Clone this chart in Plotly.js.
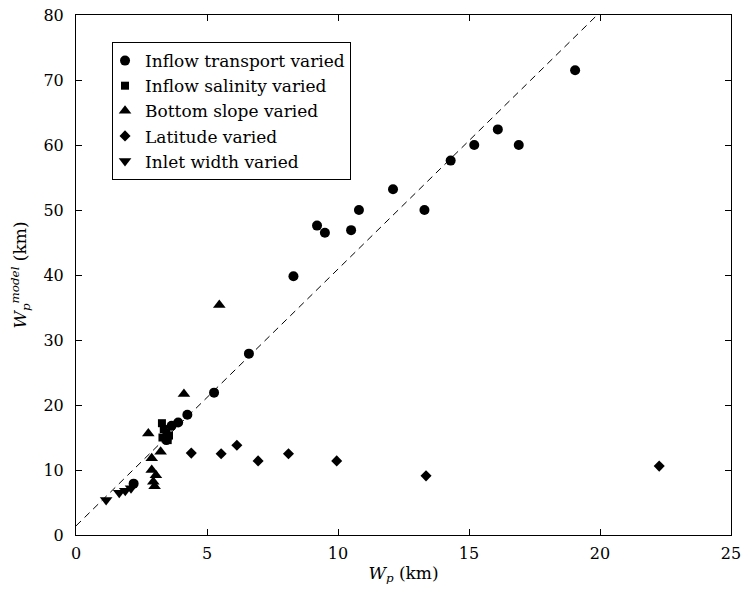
<!DOCTYPE html>
<html>
<head>
<meta charset="utf-8">
<script src="https://cdn.plot.ly/plotly-3.0.1.min.js"></script>
<style>html,body{margin:0;padding:0;background:#fff;}#chart{width:741px;height:594px;}</style>
</head>
<body>
<div id="chart"></div>
<script>
// Inflow transport varied (circles)
var transportX = [19.05, 16.1, 16.9, 15.2, 14.3, 12.1, 13.3, 10.8, 9.2, 9.5, 10.5, 8.3, 6.6, 5.27, 4.25, 3.9, 3.65, 3.45, 2.2];
var transportY = [71.5, 62.4, 60.0, 60.0, 57.6, 53.2, 50.0, 50.0, 47.6, 46.5, 46.9, 39.8, 27.9, 21.9, 18.5, 17.3, 16.8, 14.6, 7.9];
// Inflow salinity varied (squares)
var salinityX = [3.28, 3.35, 3.45, 3.3, 3.55, 3.5];
var salinityY = [17.2, 16.3, 15.8, 15.0, 15.3, 14.6];
// Bottom slope varied (triangles up)
var slopeX = [5.47, 4.12, 2.76, 3.23, 2.89, 2.89, 3.05, 2.95, 3.0];
var slopeY = [35.4, 21.7, 15.6, 12.8, 11.8, 10.0, 9.2, 8.2, 7.5];
// Latitude varied (diamonds)
var latitudeX = [4.4, 5.54, 6.14, 6.95, 8.11, 9.95, 13.36, 22.26];
var latitudeY = [12.6, 12.5, 13.8, 11.4, 12.5, 11.4, 9.1, 10.6];
// Inlet width varied (triangles down)
var inletX = [1.15, 1.65, 1.88, 2.1];
var inletY = [5.4, 6.5, 6.8, 7.2];
// Reference (dashed) line endpoints
var lineX = [0, 20.5];
var lineY = [1.4, 82.4];

var serif = 'DejaVu Serif';

var traces = [
  {x: lineX, y: lineY, mode: 'lines', type: 'scatter', showlegend: false, hoverinfo: 'skip',
   line: {color: '#000', width: 1, dash: '7px,5px'}},
  {x: transportX, y: transportY, mode: 'markers', type: 'scatter', name: 'Inflow transport varied',
   marker: {symbol: 'circle', size: 10, color: '#000'}},
  {x: salinityX, y: salinityY, mode: 'markers', type: 'scatter', name: 'Inflow salinity varied',
   marker: {symbol: 'square', size: 8, color: '#000'}},
  {x: slopeX, y: slopeY, mode: 'markers', type: 'scatter', name: 'Bottom slope varied',
   marker: {symbol: 'triangle-up', size: 11, color: '#000'}},
  {x: latitudeX, y: latitudeY, mode: 'markers', type: 'scatter', name: 'Latitude varied',
   marker: {symbol: 'diamond', size: 8.5, color: '#000'}},
  {x: inletX, y: inletY, mode: 'markers', type: 'scatter', name: 'Inlet width varied',
   marker: {symbol: 'triangle-down', size: 11, color: '#000'}}
];

var axisCommon = {
  showgrid: false, zeroline: false, showline: true, linecolor: '#000', linewidth: 1,
  mirror: 'ticks', ticks: 'inside', ticklen: 6, tickcolor: '#000', tickwidth: 1,
  tickfont: {family: serif, size: 16, color: '#000'}, ticklabeloverflow: 'allow'
};

var layout = {
  width: 741, height: 594,
  margin: {l: 76, r: 10, t: 15, b: 59},
  paper_bgcolor: '#fff', plot_bgcolor: '#fff',
  font: {family: serif, color: '#000'},
  xaxis: Object.assign({}, axisCommon, {
    range: [0, 25], dtick: 5, tick0: 0, ticklabelstandoff: 4,
    title: {text: '<i>W<sub>p</sub></i> (km)', font: {family: serif, size: 17, color: '#000'}, standoff: 4}
  }),
  yaxis: Object.assign({}, axisCommon, {
    range: [0, 80], dtick: 10, tick0: 0, ticklabelstandoff: 8,
    title: {text: '<i>W<sub>p</sub><sup>model</sup></i> (km)', font: {family: serif, size: 17, color: '#000'}, standoff: 12}
  }),
  legend: {
    x: 0.055, y: 0.948, xanchor: 'left', yanchor: 'top',
    bgcolor: '#fff', bordercolor: '#000', borderwidth: 1,
    font: {family: serif, size: 17, color: '#000'},
    indentation: -8, tracegroupgap: 0
  },
  showlegend: true
};

Plotly.newPlot('chart', traces, layout, {displayModeBar: false, staticPlot: true});
</script>
</body>
</html>
